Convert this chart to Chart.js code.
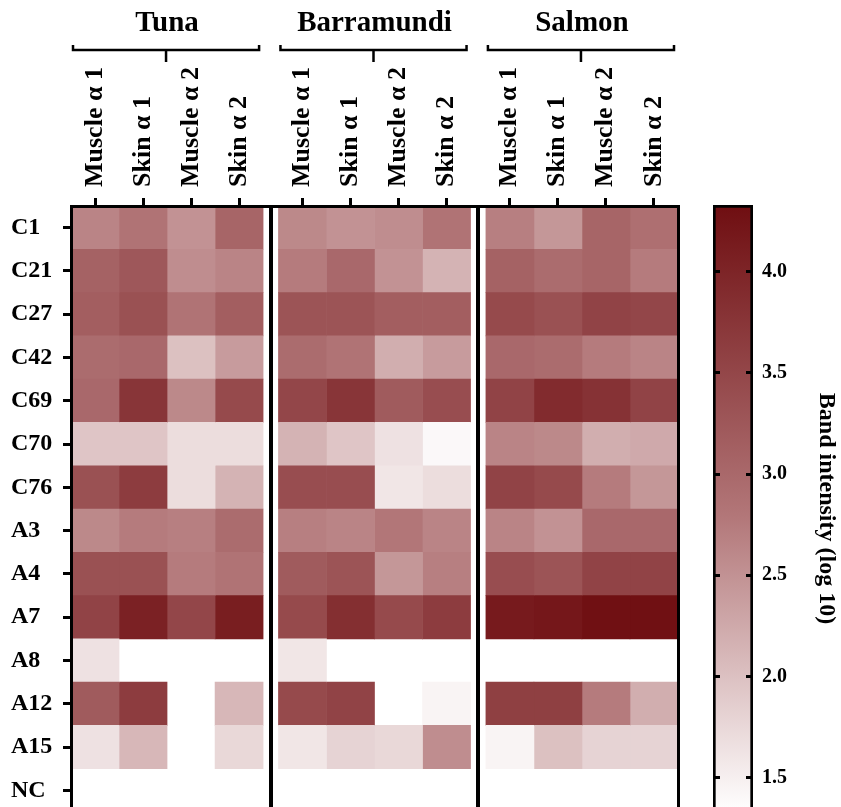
<!DOCTYPE html>
<html>
<head>
<meta charset="utf-8">
<script src="https://cdn.jsdelivr.net/npm/chart.js@4.4.1/dist/chart.umd.min.js"></script>
<style>
  html, body { margin: 0; padding: 0; background: #fff; overflow: hidden; }
  #wrap { position: relative; width: 841px; height: 807px; overflow: hidden; }
  #heat { position: absolute; left: 0; top: 0; }
  #bar { position: absolute; left: 700px; top: 0; }
</style>
</head>
<body>
<div id="wrap">
  <canvas id="heat" width="700" height="812"></canvas>
  <canvas id="bar" width="141" height="812"></canvas>
</div>
<script>
const rows = ['C1', 'C21', 'C27', 'C42', 'C69', 'C70', 'C76', 'A3', 'A4', 'A7', 'A8', 'A12', 'A15', 'NC'];
const species = ['Tuna', 'Barramundi', 'Salmon'];
const samples = ['Muscle α 1', 'Skin α 1', 'Muscle α 2', 'Skin α 2'];

// band intensity (log 10), one array per column, null = no band
const tunaMuscle1 = [2.65, 3.1, 3.15, 2.95, 3.0, 1.95, 3.35, 2.6, 3.35, 3.55, 1.65, 3.2, 1.65, null];
const tunaSkin1 = [2.85, 3.25, 3.35, 3.0, 3.75, 1.95, 3.65, 2.75, 3.35, 4.05, null, 3.65, 2.1, null];
const tunaMuscle2 = [2.5, 2.55, 2.85, 2.0, 2.6, 1.7, 1.7, 2.7, 2.75, 3.5, null, null, null, null];
const tunaSkin2 = [3.05, 2.65, 3.15, 2.4, 3.45, 1.7, 2.15, 2.95, 2.85, 4.1, null, 2.1, 1.75, null];
const barraMuscle1 = [2.6, 2.75, 3.3, 2.95, 3.5, 2.15, 3.4, 2.7, 3.2, 3.45, 1.6, 3.45, 1.6, null];
const barraSkin1 = [2.5, 3.0, 3.3, 2.85, 3.75, 1.95, 3.4, 2.65, 3.3, 3.85, null, 3.55, 1.8, null];
const barraMuscle2 = [2.55, 2.5, 3.15, 2.2, 3.2, 1.65, 1.6, 2.8, 2.45, 3.45, null, null, 1.75, null];
const barraSkin2 = [2.85, 2.15, 3.15, 2.4, 3.4, 1.4, 1.7, 2.65, 2.7, 3.65, null, 1.45, 2.55, null];
const salmonMuscle1 = [2.7, 3.1, 3.45, 3.0, 3.55, 2.65, 3.55, 2.65, 3.4, 4.15, null, 3.6, 1.45, null];
const salmonSkin1 = [2.45, 2.95, 3.35, 2.95, 3.9, 2.6, 3.45, 2.5, 3.3, 4.2, null, 3.6, 2.0, null];
const salmonMuscle2 = [3.05, 3.05, 3.55, 2.75, 3.8, 2.2, 2.75, 3.0, 3.55, 4.3, null, 2.75, 1.8, null];
const salmonSkin2 = [2.9, 2.75, 3.5, 2.65, 3.55, 2.25, 2.45, 3.0, 3.55, 4.3, null, 2.2, 1.8, null];

const scaleMin = 1.33;
const scaleMax = 4.33;
const barTicks = [1.5, 2.0, 2.5, 3.0, 3.5, 4.0];

const columns = [tunaMuscle1, tunaSkin1, tunaMuscle2, tunaSkin2,
  barraMuscle1, barraSkin1, barraMuscle2, barraSkin2,
  salmonMuscle1, salmonSkin1, salmonMuscle2, salmonSkin2];

// colour ramp (white -> dark red)
const stopValues = [scaleMin, 2.8, scaleMax];
const stopColors = [[255, 255, 255], [178, 118, 120], [111, 14, 17]];

function colorFor(v) {
  if (v === null) return 'rgba(0,0,0,0)';
  let i = 0;
  while (i < stopValues.length - 2 && v > stopValues[i + 1]) i++;
  let t = (v - stopValues[i]) / (stopValues[i + 1] - stopValues[i]);
  t = Math.max(0, Math.min(1, t));
  const c = stopColors[i].map((lo, k) => Math.round(lo + (stopColors[i + 1][k] - lo) * t));
  return 'rgb(' + c.join(',') + ')';
}

const groupGap = 0.32;
function colStart(i) { return i + Math.floor(i / 4) * groupGap; }
const xMax = colStart(11) + 1;

const serif = "'Liberation Serif', 'Times New Roman', serif";
Chart.defaults.font.family = serif;
Chart.defaults.color = '#000';

// fixed box sizes so the plot area lands where the reference has it
function fixBox(size) {
  return s => {
    if (s.isHorizontal()) s.height = size; else s.width = size;
    s.paddingLeft = s.paddingRight = s.paddingTop = s.paddingBottom = 0;
  };
}

const datasets = columns.map((vals, i) => ({
  label: species[Math.floor(i / 4)] + ' ' + samples[i % 4],
  data: vals.map(v => v === null ? null : [colStart(i), colStart(i) + 1]),
  backgroundColor: vals.map(colorFor),
  borderWidth: 0
}));

const bracketPlugin = {
  id: 'brackets',
  afterDraw(chart) {
    const { ctx, scales: { x, xg } } = chart;
    const yLine = xg.bottom - 16;
    ctx.save();
    ctx.strokeStyle = '#000';
    ctx.lineWidth = 2.5;
    species.forEach((name, g) => {
      const left = x.getPixelForValue(colStart(g * 4)) + 2;
      const right = x.getPixelForValue(colStart(g * 4 + 3) + 1) - 4;
      const mid = (left + right) / 2;
      ctx.beginPath();
      ctx.moveTo(left, yLine - 5);
      ctx.lineTo(left, yLine);
      ctx.lineTo(right, yLine);
      ctx.lineTo(right, yLine - 5);
      ctx.moveTo(mid, yLine);
      ctx.lineTo(mid, yLine + 12);
      ctx.stroke();
    });
    ctx.restore();
  }
};

new Chart(document.getElementById('heat'), {
  type: 'bar',
  data: { labels: rows, datasets: datasets },
  plugins: [bracketPlugin],
  options: {
    responsive: false,
    animation: false,
    indexAxis: 'y',
    layout: { padding: { left: 11, top: 0, right: 22, bottom: 0 } },
    datasets: { bar: { barPercentage: 1, categoryPercentage: 1, grouped: false } },
    plugins: { legend: { display: false }, tooltip: { enabled: false } },
    scales: {
      y: {
        type: 'category',
        offset: true,
        afterFit: fixBox(60),
        grid: { offset: false, drawOnChartArea: false, tickLength: 8, tickWidth: 3, tickColor: '#000' },
        border: { display: true, width: 3, color: '#000', z: 2 },
        ticks: { crossAlign: 'far', padding: 0, font: { size: 24, weight: 'bold' } }
      },
      yr: {
        type: 'linear',
        position: 'right',
        afterFit: fixBox(0),
        ticks: { display: false },
        grid: { display: false },
        border: { display: true, width: 3, color: '#000', z: 2 }
      },
      x: {
        type: 'linear',
        position: 'top',
        min: 0,
        max: xMax,
        afterFit: fixBox(140),
        afterBuildTicks: s => { s.ticks = columns.map((c, i) => ({ value: colStart(i) + 0.5 })); },
        ticks: {
          autoSkip: false, minRotation: 90, maxRotation: 90, padding: 11, labelOffset: 31,
          font: { size: 26, weight: 'bold' },
          callback: (v, i) => samples[i % 4]
        },
        grid: { drawOnChartArea: false, tickLength: 8, tickWidth: 3, tickColor: '#000' },
        border: { display: true, width: 3, color: '#000', z: 2 }
      },
      xg: {
        type: 'linear',
        position: 'top',
        weight: 1,
        min: 0,
        max: xMax,
        afterFit: fixBox(66),
        afterBuildTicks: s => { s.ticks = species.map((n, g) => ({ value: colStart(g * 4) + 2 })); },
        ticks: {
          autoSkip: false, maxRotation: 0, padding: 17,
          font: { size: 29, weight: 'bold' },
          callback: (v, i) => species[i]
        },
        grid: { display: false },
        border: { display: false }
      },
      xd: {
        type: 'linear',
        position: 'bottom',
        min: 0,
        max: xMax,
        afterFit: fixBox(0),
        afterBuildTicks: s => { s.ticks = [4, 8].map(i => ({ value: colStart(i) - groupGap / 2 })); },
        ticks: { display: false },
        grid: { drawTicks: false, lineWidth: 4, color: '#000', z: 1 },
        border: { display: true, width: 3, color: '#000', z: 2 }
      }
    }
  }
});

function barGradient(context) {
  const chart = context.chart;
  if (!chart.chartArea) return null;
  const yScale = chart.scales.y;
  const g = chart.ctx.createLinearGradient(0, yScale.getPixelForValue(scaleMin), 0, yScale.getPixelForValue(scaleMax));
  stopValues.forEach((v, i) => {
    g.addColorStop((v - scaleMin) / (scaleMax - scaleMin), 'rgb(' + stopColors[i].join(',') + ')');
  });
  return g;
}

new Chart(document.getElementById('bar'), {
  type: 'bar',
  data: {
    labels: [''],
    datasets: [{
      data: [[scaleMin, scaleMax]],
      backgroundColor: barGradient,
      borderColor: '#000',
      borderWidth: 3,
      borderSkipped: false
    }]
  },
  options: {
    responsive: false,
    animation: false,
    layout: { padding: { left: 13, top: 205, right: 0, bottom: 0 } },
    datasets: { bar: { barPercentage: 1, categoryPercentage: 1 } },
    plugins: { legend: { display: false }, tooltip: { enabled: false } },
    scales: {
      x: { display: false },
      y: {
        position: 'right',
        min: scaleMin,
        max: scaleMax,
        afterFit: fixBox(88),
        afterBuildTicks: s => { s.ticks = barTicks.map(v => ({ value: v })); },
        ticks: { padding: 9, font: { size: 20, weight: 'bold' }, callback: v => v.toFixed(1) },
        // short marks on both inner edges of the bar
        grid: { drawOnChartArea: true, drawTicks: false, lineWidth: 3, color: '#000', z: 1 },
        border: { display: false, dash: [7, 26] },
        title: {
          display: true,
          text: 'Band intensity (log 10)',
          font: { size: 24, weight: 'bold' },
          padding: { top: 0, bottom: 0 }
        }
      }
    }
  }
});
</script>
</body>
</html>
